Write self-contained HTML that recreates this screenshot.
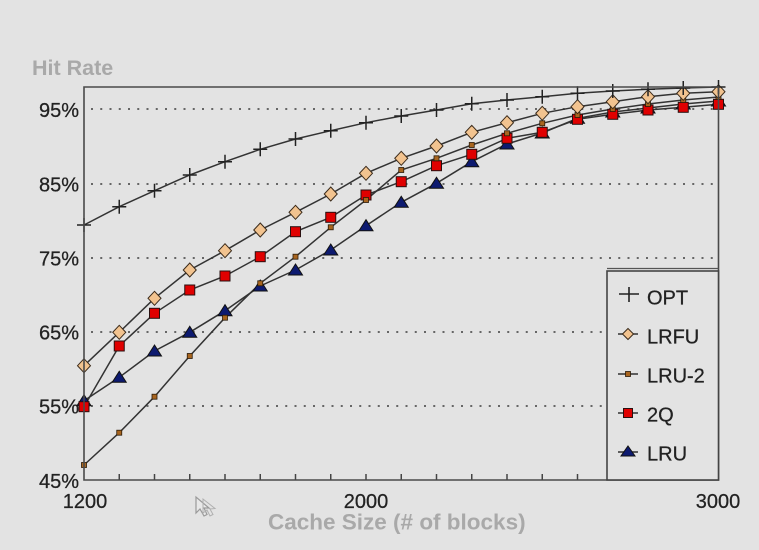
<!DOCTYPE html>
<html>
<head>
<meta charset="utf-8">
<style>
html,body{margin:0;padding:0;background:#e3e3e3;}
svg{display:block;}
text{font-family:"Liberation Sans",Arial,sans-serif;}
</style>
</head>
<body>
<svg width="759" height="550" viewBox="0 0 759 550" xmlns="http://www.w3.org/2000/svg">
<rect x="0" y="0" width="759" height="550" fill="#e3e3e3"/>

<!-- title labels -->
<text x="32" y="75" font-size="21.5" font-weight="bold" fill="#a9a9a9">Hit Rate</text>
<text x="268" y="529.5" font-size="22.5" font-weight="bold" fill="#a9a9a9">Cache Size (# of blocks)</text>

<!-- gridlines -->
<g stroke="#666" stroke-width="2" stroke-dasharray="2 7.25" fill="none">
  <line x1="91" y1="109" x2="718" y2="109"/>
  <line x1="91" y1="184" x2="718" y2="184"/>
  <line x1="91" y1="258" x2="718" y2="258"/>
  <line x1="91" y1="332" x2="604" y2="332"/>
  <line x1="91" y1="406" x2="604" y2="406"/>
</g>

<!-- y labels -->
<g font-size="20" fill="#222" stroke="#222" stroke-width="0.25" text-anchor="end">
  <text x="79" y="117">95%</text>
  <text x="79" y="191.5">85%</text>
  <text x="79" y="265.5">75%</text>
  <text x="79" y="339.5">65%</text>
  <text x="79" y="413.5">55%</text>
  <text x="79" y="488">45%</text>
</g>
<!-- x labels -->
<g font-size="20" fill="#222" stroke="#222" stroke-width="0.25" text-anchor="middle">
  <text x="85" y="508">1200</text>
  <text x="366" y="508">2000</text>
  <text x="718" y="508">3000</text>
</g>

<!-- ticks -->
<g stroke="#444" stroke-width="1.5">
  <line x1="119.25" y1="480" x2="119.25" y2="474"/>
  <line x1="154.5" y1="480" x2="154.5" y2="474"/>
  <line x1="189.75" y1="480" x2="189.75" y2="474"/>
  <line x1="225" y1="480" x2="225" y2="474"/>
  <line x1="260.25" y1="480" x2="260.25" y2="474"/>
  <line x1="295.5" y1="480" x2="295.5" y2="474"/>
  <line x1="330.75" y1="480" x2="330.75" y2="474"/>
  <line x1="366" y1="480" x2="366" y2="474"/>
  <line x1="401.25" y1="480" x2="401.25" y2="474"/>
  <line x1="436.5" y1="480" x2="436.5" y2="474"/>
  <line x1="471.75" y1="480" x2="471.75" y2="474"/>
  <line x1="507" y1="480" x2="507" y2="474"/>
  <line x1="542.25" y1="480" x2="542.25" y2="474"/>
  <line x1="577.5" y1="480" x2="577.5" y2="474"/>
  <line x1="612.75" y1="480" x2="612.75" y2="474"/>
  <line x1="648" y1="480" x2="648" y2="474"/>
  <line x1="683.25" y1="480" x2="683.25" y2="474"/>
</g>

<!-- series lines -->
<g fill="none" stroke="#333" stroke-width="1.5">
  <polyline points="84,400.7 119.25,377.3 154.5,351 189.75,332.3 225,310.7 260.25,286 295.5,270 330.75,250 366,225.7 401.25,202.3 436.5,183.3 471.75,161.7 507,144 542.25,133 577.5,118.3 612.75,112 648,108 683.25,104 718.5,101"/>
  <polyline points="84,406.7 119.25,346 154.5,313.3 189.75,290 225,276 260.25,256.7 295.5,231.7 330.75,217.3 366,195 401.25,181.7 436.5,165.7 471.75,154.3 507,138.3 542.25,132.3 577.5,119.3 612.75,114.3 648,110 683.25,107.3 718.5,104.3"/>
  <polyline points="84,465 119.25,432.7 154.5,396.7 189.75,356 225,317.7 260.25,283.3 295.5,256.7 330.75,227.3 366,200 401.25,170 436.5,158.3 471.75,145 507,133.3 542.25,123.3 577.5,115 612.75,109 648,104 683.25,100 718.5,97"/>
  <polyline points="84,365.7 119.25,332.3 154.5,298.3 189.75,270 225,250.7 260.25,230 295.5,212.3 330.75,194 366,173.3 401.25,158.3 436.5,146 471.75,132.3 507,122.7 542.25,113.3 577.5,106.7 612.75,101.7 648,96.7 683.25,93.3 718.5,91.7"/>
  <polyline points="84,225 119.25,206.7 154.5,190.7 189.75,175 225,161.7 260.25,149.3 295.5,139 330.75,130.7 366,122.7 401.25,116 436.5,110 471.75,103.8 507,100 542.25,96.7 577.5,93.3 612.75,91 648,89.3 683.25,88 718.5,87"/>
</g>

<!-- LRU markers: triangles -->
<g fill="#0d1a70" stroke="#111" stroke-width="1">
  <path d="M84,394.7 l7,11 h-14z"/>
  <path d="M119.25,371.3 l7,11 h-14z"/>
  <path d="M154.5,345 l7,11 h-14z"/>
  <path d="M189.75,326.3 l7,11 h-14z"/>
  <path d="M225,304.7 l7,11 h-14z"/>
  <path d="M260.25,280 l7,11 h-14z"/>
  <path d="M295.5,264 l7,11 h-14z"/>
  <path d="M330.75,244 l7,11 h-14z"/>
  <path d="M366,219.7 l7,11 h-14z"/>
  <path d="M401.25,196.3 l7,11 h-14z"/>
  <path d="M436.5,177.3 l7,11 h-14z"/>
  <path d="M471.75,155.7 l7,11 h-14z"/>
  <path d="M507,138 l7,11 h-14z"/>
  <path d="M542.25,127 l7,11 h-14z"/>
  <path d="M577.5,112.3 l7,11 h-14z"/>
  <path d="M612.75,106 l7,11 h-14z"/>
  <path d="M648,102 l7,11 h-14z"/>
  <path d="M683.25,98 l7,11 h-14z"/>
  <path d="M718.5,95 l7,11 h-14z"/>
</g>

<!-- 2Q markers: red squares -->
<g fill="#e00000" stroke="#2a1010" stroke-width="1">
  <rect x="79" y="401.7" width="10" height="10"/>
  <rect x="114.25" y="341" width="10" height="10"/>
  <rect x="149.5" y="308.3" width="10" height="10"/>
  <rect x="184.75" y="285" width="10" height="10"/>
  <rect x="220" y="271" width="10" height="10"/>
  <rect x="255.25" y="251.7" width="10" height="10"/>
  <rect x="290.5" y="226.7" width="10" height="10"/>
  <rect x="325.75" y="212.3" width="10" height="10"/>
  <rect x="361" y="190" width="10" height="10"/>
  <rect x="396.25" y="176.7" width="10" height="10"/>
  <rect x="431.5" y="160.7" width="10" height="10"/>
  <rect x="466.75" y="149.3" width="10" height="10"/>
  <rect x="502" y="133.3" width="10" height="10"/>
  <rect x="537.25" y="127.3" width="10" height="10"/>
  <rect x="572.5" y="114.3" width="10" height="10"/>
  <rect x="607.75" y="109.3" width="10" height="10"/>
  <rect x="643" y="105" width="10" height="10"/>
  <rect x="678.25" y="102.3" width="10" height="10"/>
  <rect x="713.5" y="99.3" width="10" height="10"/>
</g>

<!-- LRU-2 markers: small brown squares -->
<g fill="#a8651f" stroke="#2a1a08" stroke-width="0.8">
  <rect x="81.5" y="462.5" width="5" height="5"/>
  <rect x="116.75" y="430.2" width="5" height="5"/>
  <rect x="152" y="394.2" width="5" height="5"/>
  <rect x="187.25" y="353.5" width="5" height="5"/>
  <rect x="222.5" y="315.2" width="5" height="5"/>
  <rect x="257.75" y="280.8" width="5" height="5"/>
  <rect x="293" y="254.2" width="5" height="5"/>
  <rect x="328.25" y="224.8" width="5" height="5"/>
  <rect x="363.5" y="197.5" width="5" height="5"/>
  <rect x="398.75" y="167.5" width="5" height="5"/>
  <rect x="434" y="155.8" width="5" height="5"/>
  <rect x="469.25" y="142.5" width="5" height="5"/>
  <rect x="504.5" y="130.8" width="5" height="5"/>
  <rect x="539.75" y="120.8" width="5" height="5"/>
  <rect x="575" y="112.5" width="5" height="5"/>
  <rect x="610.25" y="106.5" width="5" height="5"/>
  <rect x="645.5" y="101.5" width="5" height="5"/>
  <rect x="680.75" y="97.5" width="5" height="5"/>
  <rect x="716" y="94.5" width="5" height="5"/>
</g>

<!-- LRFU markers: diamonds -->
<g fill="#f2c38f" stroke="#3a2a1a" stroke-width="1">
  <path d="M84,358.7 l6.5,7 l-6.5,7 l-6.5,-7z"/>
  <path d="M119.25,325.3 l6.5,7 l-6.5,7 l-6.5,-7z"/>
  <path d="M154.5,291.3 l6.5,7 l-6.5,7 l-6.5,-7z"/>
  <path d="M189.75,263 l6.5,7 l-6.5,7 l-6.5,-7z"/>
  <path d="M225,243.7 l6.5,7 l-6.5,7 l-6.5,-7z"/>
  <path d="M260.25,223 l6.5,7 l-6.5,7 l-6.5,-7z"/>
  <path d="M295.5,205.3 l6.5,7 l-6.5,7 l-6.5,-7z"/>
  <path d="M330.75,187 l6.5,7 l-6.5,7 l-6.5,-7z"/>
  <path d="M366,166.3 l6.5,7 l-6.5,7 l-6.5,-7z"/>
  <path d="M401.25,151.3 l6.5,7 l-6.5,7 l-6.5,-7z"/>
  <path d="M436.5,139 l6.5,7 l-6.5,7 l-6.5,-7z"/>
  <path d="M471.75,125.3 l6.5,7 l-6.5,7 l-6.5,-7z"/>
  <path d="M507,115.7 l6.5,7 l-6.5,7 l-6.5,-7z"/>
  <path d="M542.25,106.3 l6.5,7 l-6.5,7 l-6.5,-7z"/>
  <path d="M577.5,99.7 l6.5,7 l-6.5,7 l-6.5,-7z"/>
  <path d="M612.75,94.7 l6.5,7 l-6.5,7 l-6.5,-7z"/>
  <path d="M648,89.7 l6.5,7 l-6.5,7 l-6.5,-7z"/>
  <path d="M683.25,86.3 l6.5,7 l-6.5,7 l-6.5,-7z"/>
  <path d="M718.5,84.7 l6.5,7 l-6.5,7 l-6.5,-7z"/>
</g>

<!-- OPT markers: plus -->
<g stroke="#222" stroke-width="1.5" fill="none">
  <path d="M77,225 h14 M84,218 v14"/>
  <path d="M112.25,206.7 h14 M119.25,199.7 v14"/>
  <path d="M147.5,190.7 h14 M154.5,183.7 v14"/>
  <path d="M182.75,175 h14 M189.75,168 v14"/>
  <path d="M218,161.7 h14 M225,154.7 v14"/>
  <path d="M253.25,149.3 h14 M260.25,142.3 v14"/>
  <path d="M288.5,139 h14 M295.5,132 v14"/>
  <path d="M323.75,130.7 h14 M330.75,123.7 v14"/>
  <path d="M359,122.7 h14 M366,115.7 v14"/>
  <path d="M394.25,116 h14 M401.25,109 v14"/>
  <path d="M429.5,110 h14 M436.5,103 v14"/>
  <path d="M464.75,103.8 h14 M471.75,96.8 v14"/>
  <path d="M500,100 h14 M507,93 v14"/>
  <path d="M535.25,96.7 h14 M542.25,89.7 v14"/>
  <path d="M570.5,93.3 h14 M577.5,86.3 v14"/>
  <path d="M605.75,91 h14 M612.75,84 v14"/>
  <path d="M641,89.3 h14 M648,82.3 v14"/>
  <path d="M676.25,88 h14 M683.25,81 v14"/>
  <path d="M711.5,87 h14 M718.5,80 v14"/>
</g>

<!-- frame -->
<path d="M84,87 H718.5 V480 H84 Z" fill="none" stroke="#4a4a4a" stroke-width="1.6"/>

<!-- legend -->
<rect x="607" y="271" width="111.5" height="209" fill="#e3e3e3" stroke="#444" stroke-width="1.6"/>
<line x1="607" y1="268.5" x2="718.5" y2="268.5" stroke="#555" stroke-width="1.2"/>
<g stroke="#333" stroke-width="1.4">
  <line x1="618" y1="334" x2="638" y2="334"/>
  <line x1="618" y1="374" x2="638" y2="374"/>
  <line x1="618" y1="413" x2="638" y2="413"/>
  <line x1="618" y1="452" x2="638" y2="452"/>
</g>
<path d="M619,294 h20 M629,287 v15" stroke="#222" stroke-width="1.6"/>
<path d="M628,328.5 l5.5,5.5 l-5.5,5.5 l-5.5,-5.5z" fill="#f2c38f" stroke="#3a2a1a" stroke-width="1"/>
<rect x="625.5" y="371.5" width="5" height="5" fill="#a8651f" stroke="#2a1a08" stroke-width="0.8"/>
<rect x="623.5" y="408.5" width="9" height="9" fill="#e00000" stroke="#2a1010" stroke-width="1"/>
<path d="M628,446 l7,10 h-14z" fill="#0d1a70" stroke="#111" stroke-width="1"/>
<g font-size="20" fill="#222" stroke="#222" stroke-width="0.25">
  <text x="647" y="304.5">OPT</text>
  <text x="647" y="343.5">LRFU</text>
  <text x="647" y="382.5">LRU-2</text>
  <text x="647" y="421.5">2Q</text>
  <text x="647" y="460.5">LRU</text>
</g>

<!-- cursor -->
<path d="M196,497 L196,513 L200,509 L204,516 L207,514.5 L204,508 L209,508 Z" fill="#e8e8e8" stroke="#9a9a9a" stroke-width="1.2"/>
<path d="M203,499 L203,513 L207,510 L210,516 L213,514.5 L210,509 L215,508.5 Z" fill="none" stroke="#b0b0b0" stroke-width="1"/>
</svg>
</body>
</html>
